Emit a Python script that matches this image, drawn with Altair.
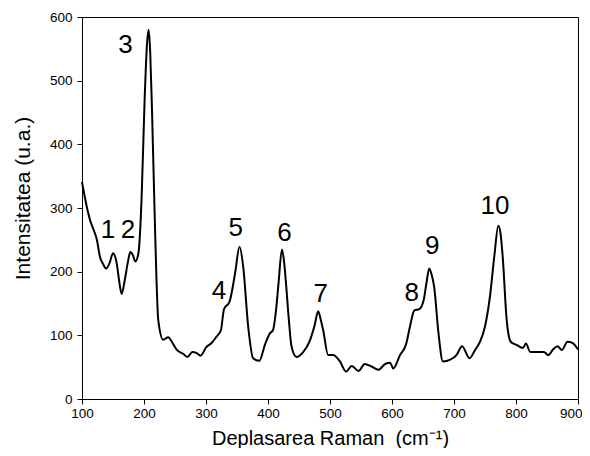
import altair as alt
import pandas as pd

shift = [100,105,110,113,119,124,129,134,139,145,150,156,160,164,169,174,178,182,186,191,
         196,201,205,207.5,210,213,218,223,231,239,246,253,263,270,278,285,291,301,309,317,
         324,329,338,347,354,360,368,376,386,395,403,408,413,417,422.5,426,429,434,438,446,
         457,468,475,481,485,489,497,505,516,526,535,546,556,567,578,589,597,602,613,623,
         629,636,644,651,656,660,664,668,675,682,694,704,713,725,734,742,750,758,765,771.5,
         775,778.5,785,791.5,801,811,816,823,833,845,852,860,867,874,883,891,900]
intensity = [341,315,292,281,265,250,223,212,205,215,229,213,185,165,187,215,231,226,216,229,
             312,470,560,580,545,450,260,124,93,97,88,77,71,66,74,72,68,82,88,98,
             108,141,153,198,239,208,114,64,60,85,103,108,140,182,235,215,182,120,82,66,
             74,93,115,138,125,108,69,69,59,43,52,44,55,51,46,55,57,48,69,87,
             114,139,141,155,185,205,195,176,103,59,62,69,83,64,77,90,114,161,224,272,
             260,224,124,90,85,80,87,74,74,74,69,78,83,77,90,88,78]

peak_labels = ["1","2","3","4","5","6","7","8","9","10"]
label_x = [142,174,170,321,348,426.6,485,631.7,665,766]
label_y = [265,265,556,170,268,261.5,165,167,240,303]

x_ticks = list(range(100, 901, 50))
y_ticks = list(range(0, 601, 50))

df = pd.DataFrame({"x": shift, "y": intensity})
dl = pd.DataFrame({"x": label_x, "y": label_y, "t": peak_labels})

FONT = "Liberation Sans"
xscale = alt.Scale(domain=[100, 900], nice=False, zero=False)
yscale = alt.Scale(domain=[0, 600], nice=False)

major_test = "datum.value % 100 === 0"
tick_size = {"condition": {"test": major_test, "value": 5}, "value": 3}

line = alt.Chart(df).mark_line(color="black", strokeWidth=2, interpolate="monotone").encode(
    x=alt.X("x:Q", scale=xscale,
            axis=alt.Axis(values=x_ticks, title="Deplasarea Raman\u00a0\u00a0(cm⁻¹)",
                          tickSize=tick_size, labelFontSize=13.5, titleFontSize=20,
                          titlePadding=9, labelPadding=2, labelFlush=False,
                          labelAlign={"condition": {"test": "datum.value === 900", "value": "right"},
                                      "value": "center"},
                          labelOffset={"condition": {"test": "datum.value === 900", "value": 4},
                                       "value": 0},
                          labelExpr="datum.value % 100 === 0 ? datum.label : ''")),
    y=alt.Y("y:Q", scale=yscale,
            axis=alt.Axis(values=y_ticks, title="Intensitatea (u.a.)",
                          tickSize=tick_size, labelFontSize=13.5, titleFontSize=21,
                          titleX=-49, titleY=181, labelPadding=5, labelFlush=False,
                          labelExpr="datum.value % 100 === 0 ? datum.label : ''")),
)

text = alt.Chart(dl).mark_text(fontSize=26, font=FONT, color="black",
                               align="center", baseline="middle").encode(
    x=alt.X("x:Q", scale=xscale), y=alt.Y("y:Q", scale=yscale), text="t:N")

chart = alt.layer(line, text).properties(
    width=496, height=382,
    autosize=alt.AutoSizeParams(type="none"),
    padding={"left": 74, "top": 9, "right": 4, "bottom": 49},
    background="white",
).configure_view(stroke="black", strokeWidth=1).configure_axis(
    grid=False, domainColor="black", tickColor="black", labelColor="black",
    titleColor="black", labelFont=FONT, titleFont=FONT, titleFontWeight="normal",
)

chart.save("out.html", embed_options={"renderer": "svg", "actions": False})
